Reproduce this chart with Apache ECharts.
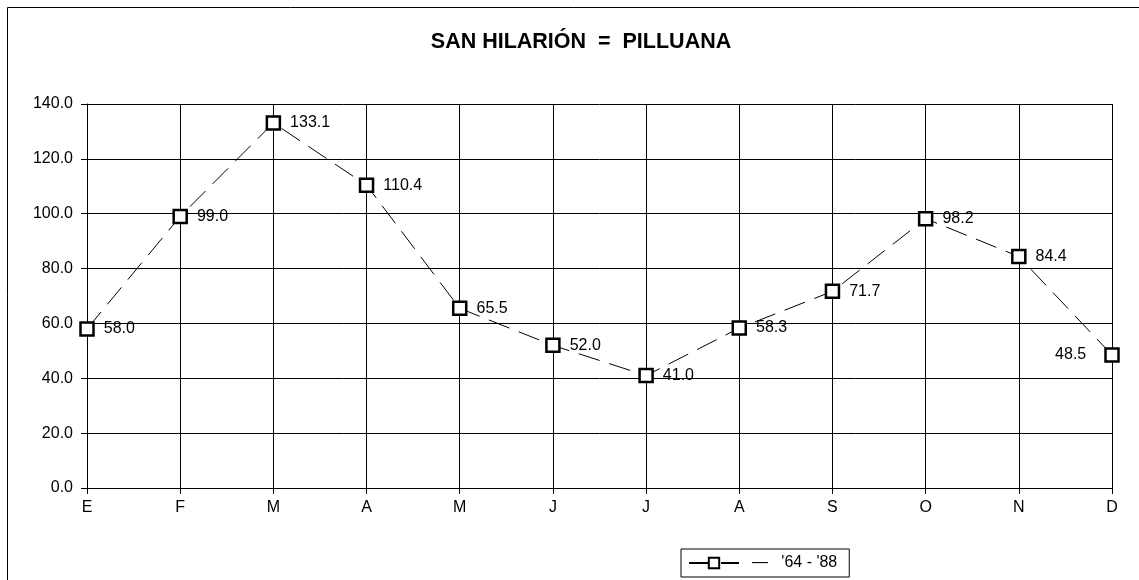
<!DOCTYPE html>
<html>
<head>
<meta charset="utf-8">
<title>SAN HILARIÓN = PILLUANA</title>
<script src="https://cdn.jsdelivr.net/npm/echarts@6/dist/echarts.min.js"></script>
<style>
  html, body { margin: 0; padding: 0; background: #fff; }
  #main { width: 1139px; height: 580px; }
</style>
</head>
<body>
<div id="main"></div>
<script>
var meses = ['E', 'F', 'M', 'A', 'M', 'J', 'J', 'A', 'S', 'O', 'N', 'D'];
var valores = [58.0, 99.0, 133.1, 110.4, 65.5, 52.0, 41.0, 58.3, 71.7, 98.2, 84.4, 48.5];
var serieNombre = "'64 - '88";

var chart = echarts.init(document.getElementById('main'));
var fuente = '"Liberation Sans", Arial, sans-serif';

// el último punto lleva su etiqueta a la izquierda
var puntos = valores.map(function (v, i) {
    if (i === valores.length - 1) {
        return { value: v, label: { position: 'left', distance: 18 } };
    }
    return v;
});

var option = {
    backgroundColor: '#fff',
    animation: false,
    title: {
        text: 'SAN HILARIÓN  =  PILLUANA',
        left: 576,
        textAlign: 'center',
        top: 26,
        textStyle: { fontFamily: fuente, fontSize: 21.5, fontWeight: 'bold', color: '#000' }
    },
    graphic: [{
        type: 'rect',
        shape: { x: 7.5, y: 7.5, width: 1140, height: 580 },
        style: { fill: 'none', stroke: '#000', lineWidth: 1 },
        silent: true
    }],
    legend: {
        left: 681,
        top: 549,
        data: [serieNombre],
        itemWidth: 50,
        itemHeight: 13,
        itemGap: 14,
        padding: [6, 12, 6, 7],
        borderColor: '#000',
        borderWidth: 1,
        formatter: function (n) { return '—   ' + n; },
        textStyle: { fontFamily: fuente, fontSize: 16, color: '#000', padding: [0, 0, 0, 8] }
    },
    grid: { left: 87, right: 27, top: 104, bottom: 92, containLabel: false },
    xAxis: {
        type: 'category',
        data: meses,
        boundaryGap: false,
        axisLine: { lineStyle: { color: '#000' } },
        axisTick: { alignWithLabel: true, length: 6, lineStyle: { color: '#000' } },
        axisLabel: { fontFamily: fuente, fontSize: 16, color: '#000', margin: 12 },
        splitLine: { show: true, lineStyle: { color: '#000', width: 1 } }
    },
    yAxis: {
        type: 'value',
        min: 0,
        max: 140,
        interval: 20,
        axisLine: { show: true, lineStyle: { color: '#000' } },
        axisTick: { show: true, length: 6, lineStyle: { color: '#000' } },
        axisLabel: {
            fontFamily: fuente, fontSize: 16, color: '#000', margin: 14,
            formatter: function (v) { return v.toFixed(1); }
        },
        splitLine: { show: true, lineStyle: { color: '#000', width: 1 } }
    },
    series: [{
        name: serieNombre,
        type: 'line',
        data: puntos,
        symbol: 'rect',
        symbolSize: 13,
        lineStyle: { color: '#000', width: 1, type: [22, 10] },
        itemStyle: { color: '#fff', borderColor: '#000', borderWidth: 2.5 },
        label: {
            show: true,
            position: 'right',
            distance: 9,
            fontFamily: fuente,
            fontSize: 16,
            color: '#000',
            formatter: function (p) { return p.value.toFixed(1); }
        }
    }]
};

chart.setOption(option);
</script>
</body>
</html>
